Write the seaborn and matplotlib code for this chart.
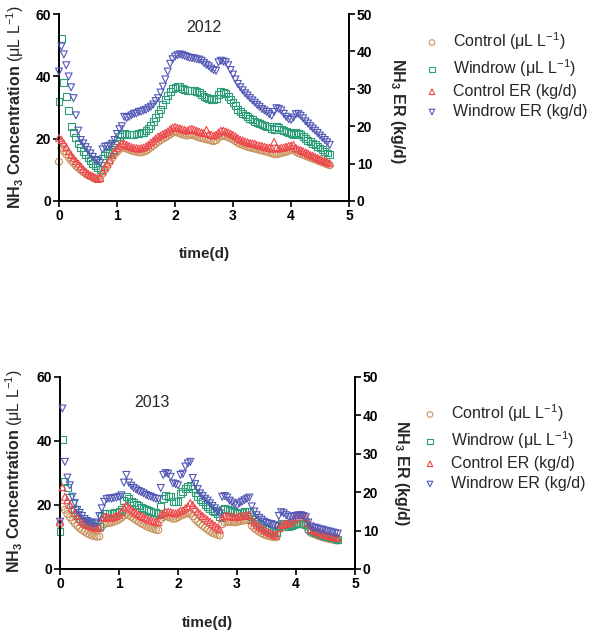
import numpy as np
import pandas as pd
import matplotlib
matplotlib.use("Agg")
import matplotlib.pyplot as plt
import seaborn as sns

sns.set_style("ticks")
plt.rcParams["font.family"] = ["Liberation Sans", "DejaVu Sans"]
plt.rcParams["mathtext.fontset"] = "custom"
plt.rcParams["mathtext.rm"] = "Liberation Sans"
plt.rcParams["mathtext.bf"] = "Liberation Sans:bold"
plt.rcParams["mathtext.it"] = "Liberation Sans:italic"
plt.rcParams["mathtext.default"] = "regular"

# ---------------- data (hourly readings, time in days) ----------------
# 2012
ctrl_conc_2012 = [12.6, 16.9, 16.0, 15.0, 14.0, 13.0, 12.2, 11.3, 10.6, 10.0,
                  9.3, 8.8, 8.3, 8.0, 7.6, 7.3, 7.2, 7.1, 8.8, 10.0,
                  11.2, 12.5, 13.8, 15.0, 15.8, 16.6, 17.3, 17.1, 16.8, 16.5,
                  16.2, 16.0, 15.8, 15.6, 15.6, 15.8, 16.1, 16.6, 17.2, 17.8,
                  18.4, 19.0, 19.5, 20.0, 20.4, 20.9, 21.4, 21.9, 22.2, 22.0,
                  21.7, 21.4, 21.2, 21.0, 21.2, 21.3, 21.0, 20.7, 20.4, 20.2,
                  20.0, 19.8, 19.6, 19.4, 19.2, 19.5, 20.3, 20.8, 21.0, 20.8,
                  20.5, 20.1, 19.7, 19.2, 18.7, 18.3, 18.0, 17.7, 17.4, 17.2,
                  17.0, 16.8, 16.6, 16.4, 16.2, 16.0, 15.8, 15.6, 15.3, 15.1,
                  15.0, 15.2, 15.4, 15.6, 15.8, 16.1, 16.4, 16.7, 15.8, 15.4,
                  15.1, 14.8, 14.5, 14.2, 13.9, 13.6, 13.3, 13.0, 12.7, 12.4,
                  12.1, 11.8, 11.5]
wind_conc_2012 = [32.0, 52.0, 38.0, 33.5, 29.0, 24.0, 22.0, 20.3, 18.5, 17.2,
                  16.0, 14.8, 13.8, 12.9, 12.0, 11.3, 10.7, 10.1, 13.5, 14.5,
                  15.1, 15.7, 16.6, 18.0, 19.5, 20.6, 21.2, 21.7, 21.5, 21.3,
                  21.2, 21.3, 21.5, 21.7, 21.9, 22.1, 22.5, 23.3, 24.3, 25.5,
                  26.8, 28.2, 29.5, 31.0, 32.5, 34.0, 35.2, 36.0, 36.5, 36.8,
                  36.7, 36.2, 35.8, 35.6, 35.5, 35.4, 35.4, 35.1, 34.7, 34.2,
                  33.6, 33.2, 32.8, 32.5, 32.6, 32.8, 34.3, 35.0, 34.8, 34.4,
                  33.6, 32.6, 31.5, 30.5, 29.5, 28.8, 28.2, 27.6, 27.0, 26.5,
                  26.0, 25.6, 25.2, 24.8, 24.5, 24.2, 24.0, 23.8, 23.3, 23.0,
                  23.8, 23.5, 23.0, 22.5, 22.2, 22.0, 21.7, 21.3, 22.0, 21.8,
                  21.2, 20.6, 20.0, 19.5, 19.0, 18.5, 18.0, 17.5, 17.0, 16.5,
                  16.0, 15.4, 14.8]
ctrl_er_2012 = [16.9, 16.3, 15.4, 14.4, 13.3, 12.3, 11.5, 10.7, 10.0, 9.3,
                8.5, 7.9, 7.3, 6.9, 6.6, 6.2, 5.9, 6.1, 7.9, 9.0,
                10.0, 11.0, 12.3, 13.3, 14.2, 14.8, 15.4, 15.3, 15.0, 14.7,
                14.4, 14.2, 14.1, 14.0, 14.1, 14.3, 14.6, 15.0, 15.6, 16.1,
                16.7, 17.2, 17.5, 17.9, 18.2, 18.6, 19.2, 19.6, 19.8, 19.6,
                19.4, 19.2, 19.0, 18.8, 19.2, 19.3, 19.0, 18.8, 18.5, 18.3,
                18.2, 19.0, 17.9, 17.7, 17.5, 17.7, 18.3, 18.8, 18.8, 18.6,
                18.3, 18.0, 17.7, 17.3, 16.8, 16.4, 16.2, 15.9, 15.7, 15.5,
                15.4, 15.3, 15.0, 14.8, 14.7, 14.5, 14.3, 14.2, 14.0, 15.8,
                14.3, 14.0, 14.2, 14.3, 14.5, 14.7, 14.8, 15.0, 14.2, 13.8,
                13.6, 13.3, 13.0, 12.7, 12.3, 12.1, 11.8, 11.5, 11.2, 10.9,
                10.7, 10.4, 10.1]
wind_er_2012 = [34.6, 41.3, 39.2, 36.3, 33.3, 30.4, 27.5, 22.9, 18.8, 16.3,
                15.4, 14.4, 13.6, 12.7, 11.8, 11.0, 10.7, 10.1, 13.8, 14.5,
                14.6, 14.8, 15.3, 16.3, 17.9, 19.2, 20.0, 22.5, 22.2, 22.5,
                22.9, 23.3, 23.4, 23.8, 23.9, 24.2, 24.4, 24.8, 25.2, 25.8,
                26.7, 27.5, 29.0, 30.6, 32.5, 34.6, 36.7, 37.9, 38.6, 39.0,
                39.2, 39.0, 38.8, 38.5, 38.3, 38.2, 38.1, 37.9, 37.8, 37.5,
                36.9, 36.4, 36.0, 35.4, 35.0, 34.8, 37.1, 37.5, 37.3, 37.1,
                36.3, 35.0, 33.8, 32.5, 31.3, 30.4, 29.6, 28.8, 28.2, 27.5,
                26.9, 26.3, 25.7, 25.2, 24.6, 24.2, 23.8, 23.2, 22.8, 23.8,
                24.8, 24.6, 24.2, 23.3, 22.5, 21.9, 21.7, 22.3, 23.2, 23.3,
                22.8, 22.1, 21.3, 20.7, 20.0, 19.4, 18.8, 18.2, 17.5, 16.9,
                16.3, 15.7, 15.0]

# 2013
ctrl_conc_2013 = [14.0, 19.5, 18.5, 17.2, 16.2, 15.2, 14.3, 13.5, 12.8, 12.2,
                  11.7, 11.2, 10.8, 10.5, 10.3, 10.1, 10.2, 13.2, 14.0, 14.3,
                  14.4, 14.6, 14.8, 15.1, 15.5, 16.0, 16.7, 17.2, 16.8, 16.3,
                  15.8, 15.3, 14.8, 14.3, 13.9, 13.5, 13.1, 12.8, 12.5, 12.3,
                  12.2, 15.5, 16.2, 16.5, 16.3, 16.0, 15.7, 15.8, 16.2, 16.6,
                  16.9, 17.2, 17.4, 17.3, 16.5, 15.6, 14.8, 14.1, 13.5, 12.9,
                  12.3, 11.8, 11.3, 11.0, 10.7, 10.5, 14.0, 14.5, 14.7, 14.8,
                  14.7, 14.6, 14.7, 14.9, 15.1, 15.2, 15.3, 15.2, 13.5, 12.8,
                  12.2, 11.7, 11.2, 10.8, 10.5, 10.3, 10.1, 10.0, 9.9, 12.3,
                  12.8, 13.0, 13.2, 13.3, 13.4, 13.6, 13.8, 14.0, 14.0, 13.8,
                  13.5, 12.2, 11.3, 11.0, 10.7, 10.4, 10.1, 9.9, 9.7, 9.5,
                  9.3, 9.2, 9.0, 8.9]
wind_conc_2013 = [11.7, 40.5, 27.3, 25.5, 22.5, 20.5, 18.5, 17.0, 15.8, 15.0,
                  14.5, 14.2, 13.8, 13.5, 13.3, 13.2, 13.3, 16.5, 17.4, 17.4,
                  17.3, 17.5, 17.6, 17.8, 18.0, 18.5, 21.5, 22.8, 22.0, 21.2,
                  20.7, 20.3, 19.8, 19.3, 19.0, 18.6, 18.3, 18.0, 17.8, 17.6,
                  17.4, 19.5, 22.1, 23.0, 22.8, 22.6, 21.2, 21.0, 21.2, 23.6,
                  24.2, 25.2, 25.7, 26.0, 25.3, 23.8, 22.8, 21.8, 21.0, 20.3,
                  19.6, 19.0, 18.4, 17.9, 17.2, 16.5, 18.5, 18.8, 18.5, 18.2,
                  17.9, 17.6, 17.5, 17.6, 17.8, 17.9, 18.0, 18.0, 16.5, 15.5,
                  14.8, 14.2, 13.6, 13.1, 12.7, 12.4, 12.1, 11.8, 11.5, 13.2,
                  14.3, 14.2, 13.8, 13.4, 13.6, 13.9, 14.1, 14.3, 14.3, 14.2,
                  14.0, 12.8, 12.0, 11.7, 11.4, 11.1, 10.8, 10.5, 10.3, 10.1,
                  9.9, 9.7, 9.5, 9.3]
ctrl_er_2013 = [12.3, 21.3, 18.8, 17.9, 16.7, 15.7, 14.6, 13.8, 13.0, 12.3,
                11.8, 11.5, 11.3, 11.0, 10.8, 10.6, 10.7, 13.2, 13.6, 13.5,
                13.3, 13.4, 13.6, 13.8, 14.1, 14.8, 16.1, 16.5, 16.0, 15.5,
                15.0, 14.5, 14.2, 13.8, 13.5, 13.2, 12.8, 12.7, 12.5, 12.3,
                12.2, 14.1, 14.5, 14.8, 14.9, 14.8, 14.6, 14.5, 14.7, 15.2,
                15.3, 15.8, 16.3, 17.2, 16.7, 15.7, 15.0, 14.4, 13.8, 13.3,
                12.8, 12.3, 11.8, 11.3, 10.8, 10.3, 13.3, 13.8, 13.8, 13.8,
                13.6, 13.5, 13.5, 13.7, 13.8, 13.8, 14.0, 14.1, 12.7, 12.1,
                11.5, 11.0, 10.6, 10.2, 9.8, 9.5, 9.2, 8.9, 8.7, 10.7,
                11.5, 11.7, 11.8, 12.0, 12.3, 12.9, 13.5, 14.0, 14.1, 14.0,
                13.6, 11.9, 10.3, 10.1, 9.8, 9.6, 9.3, 9.1, 8.8, 8.7,
                8.5, 8.3, 8.2, 8.1]
wind_er_2013 = [12.3, 41.8, 27.9, 23.8, 21.8, 18.8, 17.2, 15.4, 14.6, 13.8,
                13.0, 12.5, 12.2, 11.9, 11.8, 12.1, 13.8, 15.8, 17.5, 18.2,
                18.4, 18.3, 18.5, 18.6, 18.8, 19.2, 22.5, 24.5, 22.5, 21.7,
                21.1, 20.7, 20.3, 20.0, 19.7, 19.3, 19.0, 18.8, 18.5, 18.3,
                18.2, 21.1, 24.5, 25.0, 24.8, 24.0, 22.3, 22.1, 21.8, 24.5,
                24.8, 26.7, 27.5, 27.9, 23.7, 22.1, 20.8, 19.7, 19.0, 18.3,
                17.8, 17.1, 16.4, 15.8, 15.0, 14.5, 18.8, 19.0, 18.6, 17.8,
                17.3, 16.8, 16.5, 17.1, 17.5, 17.9, 18.3, 18.6, 16.3, 15.0,
                14.0, 13.3, 12.8, 12.3, 12.0, 11.8, 11.7, 11.4, 11.3, 13.8,
                14.8, 14.5, 14.0, 13.6, 13.5, 13.7, 13.8, 14.0, 14.0, 13.8,
                13.5, 12.1, 11.1, 10.8, 10.7, 10.5, 10.3, 10.2, 10.0, 9.8,
                9.7, 9.5, 9.3, 9.2]

series_labels = ["Control (μL L$^{-1}$)", "Windrow (μL L$^{-1}$)",
                 "Control ER (kg/d)", "Windrow ER (kg/d)"]
x_ticks = [0, 1, 2, 3, 4, 5]
left_ticks = [0, 20, 40, 60]
right_ticks = [0, 10, 20, 30, 40, 50]

# ---------------- styling ----------------
C_CTRL = "#C8925C"
C_WIND = "#2E9E7A"
C_CER = "#EF474B"
C_WER = "#5357B7"
MS = 25
MLW = 0.8

fig = plt.figure(figsize=(5.91, 6.34), dpi=100)


def scatter(ax, vals, marker, color, label):
    df = pd.DataFrame({"t": np.arange(len(vals)) / 24.0, "v": vals})
    sns.scatterplot(data=df, x="t", y="v", ax=ax, marker=marker, s=MS,
                    color=color, facecolor="none", edgecolor=color,
                    linewidth=MLW, clip_on=False, label=label, legend=False)


def panel(rect, year, cc, wc, cer, wer, title_pos, ylab_pos, rlab_pos,
          xlab_pos, leg_anchor):
    ax = fig.add_axes(rect)
    ax2 = ax.twinx()
    scatter(ax, cc, "o", C_CTRL, series_labels[0])
    scatter(ax, wc, "s", C_WIND, series_labels[1])
    scatter(ax2, cer, "^", C_CER, series_labels[2])
    scatter(ax2, wer, "v", C_WER, series_labels[3])

    ax.set_xlim(0, 5)
    ax.set_ylim(0, 60)
    ax2.set_ylim(0, 50)
    ax.set_xticks(x_ticks, labels=[str(v) for v in x_ticks],
                  fontweight="bold", fontsize=10)
    ax.set_yticks(left_ticks, labels=[str(v) for v in left_ticks],
                  fontweight="bold", fontsize=10)
    ax2.set_yticks(right_ticks, labels=[str(v) for v in right_ticks],
                   fontweight="bold", fontsize=10)
    for a in (ax, ax2):
        a.tick_params(direction="out", length=4, width=1.2, pad=1.5,
                      colors="black")
        for s in a.spines.values():
            s.set_linewidth(1.4)
            s.set_color("black")
    ax.spines["top"].set_visible(False)
    ax.spines["right"].set_visible(False)
    ax2.spines["top"].set_visible(False)
    ax2.spines["left"].set_visible(False)
    ax2.spines["bottom"].set_visible(False)

    ax.set_xlabel("time(d)", fontsize=11, fontweight="bold")
    ax.xaxis.set_label_coords(*xlab_pos)
    ax.set_ylabel(r"$\mathbf{NH_3}$ $\mathbf{Concentration}$ (μL L$^{-1}$)",
                  fontsize=11.5)
    ax.yaxis.set_label_coords(*ylab_pos)
    ax2.set_ylabel(r"$\mathbf{NH_3}$ ER (kg/d)", fontsize=11.5,
                   fontweight="bold", rotation=270, va="bottom")
    ax2.yaxis.set_label_coords(*rlab_pos)

    ax.text(title_pos[0], title_pos[1], year, transform=ax.transAxes,
            ha="center", va="center", fontsize=11.5)

    h1, l1 = ax.get_legend_handles_labels()
    h2, l2 = ax2.get_legend_handles_labels()
    ax2.legend(h1 + h2, l1 + l2, loc="upper left", bbox_to_anchor=leg_anchor,
               bbox_transform=fig.transFigure, frameon=False, fontsize=11.5,
               handlelength=1.0, handletextpad=0.8, labelspacing=0.33,
               borderpad=0, borderaxespad=0, markerscale=0.8)
    return ax, ax2


W, H = 591.0, 634.0
panel([59 / W, (H - 201) / H, 290 / W, 187 / H], "2012",
      ctrl_conc_2012, wind_conc_2012, ctrl_er_2012, wind_er_2012,
      title_pos=(0.5, 0.93), ylab_pos=(-0.115, 0.5), rlab_pos=(1.134, 0.48),
      xlab_pos=(0.503, -0.245), leg_anchor=(424 / W, 1 - 30 / H))
panel([60 / W, (H - 569) / H, 295 / W, 192 / H], "2013",
      ctrl_conc_2013, wind_conc_2013, ctrl_er_2013, wind_er_2013,
      title_pos=(0.31, 0.865), ylab_pos=(-0.119, 0.51), rlab_pos=(1.124, 0.50),
      xlab_pos=(0.5, -0.245), leg_anchor=(422 / W, 1 - 402 / H))

fig.savefig("out.png", dpi=100)
